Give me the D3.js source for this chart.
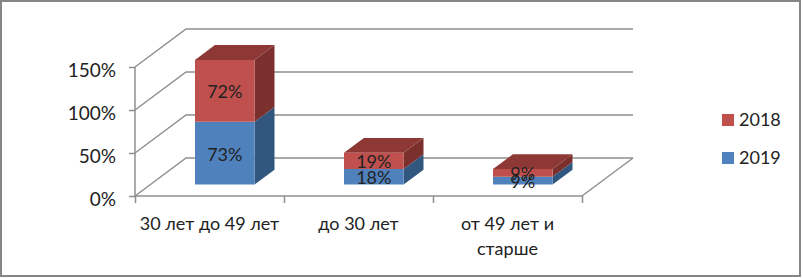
<!DOCTYPE html>
<html>
<head>
<meta charset="utf-8">
<style>
  html, body { margin: 0; padding: 0; background: #fff; }
  svg { display: block; }
  text { font-family: Lato, sans-serif; fill: #222; }
</style>
</head>
<body>
<div class="canvas"></div>
<script src="https://cdn.jsdelivr.net/npm/d3@7"></script>
<script>
const categories = ['30 лет до 49 лет', 'до 30 лет', 'от 49 лет и старше'];
const seriesNames = ['2019', '2018'];
const values2019 = [73, 18, 9];
const values2018 = [72, 19, 9];
const yTicks = [0, 50, 100, 150];

const dims = { width: 803, height: 278 };
const plot = { left: 135, right: 582, top: 67, bottom: 196 };
const depth = { x: 51, y: -38, barFrom: 0.3, barTo: 0.69 }; // fake 3d offset of the back wall
const fontSize = 18;

const colors = {
    '2019': { front: '#4f81bd', side: '#31577f', top: '#3d6596' },
    '2018': { front: '#c0504d', side: '#7b302e', top: '#8e3836' }
};
const lineColor = '#8f8f8f';

const svg = d3.select('.canvas')
    .append('svg')
    .attr('width', dims.width)
    .attr('height', dims.height);

// outer frame
svg.append('rect')
    .attr('x', 1).attr('y', 1)
    .attr('width', 799).attr('height', 275)
    .attr('fill', '#fff')
    .attr('stroke', '#868686')
    .attr('stroke-width', 2);

const x = d3.scaleBand()
    .domain(categories)
    .range([plot.left, plot.right])
    .paddingInner(0.6)
    .paddingOuter(0.3);

const y = d3.scaleLinear()
    .domain([0, 150])
    .range([plot.bottom, plot.top]);

// project a point on to the page, z = 0 is the front of the floor, z = 1 the back wall
const pt = (px, py, z) => [px + depth.x * z, py + depth.y * z];
const line = d3.line();

// walls and gridlines
const grid = svg.append('g')
    .attr('fill', 'none')
    .attr('stroke', lineColor)
    .attr('stroke-width', 1.5);

grid.selectAll('path.gridline')
    .data(yTicks)
    .join('path')
    .attr('class', 'gridline')
    .attr('d', d => line([pt(plot.left, y(d), 0), pt(plot.left, y(d), 1), pt(plot.right, y(d), 1)]));

// floor edge on the right
grid.append('path')
    .attr('d', line([pt(plot.right, y(0), 0), pt(plot.right, y(0), 1)]));

// axes
const axisY = svg.append('g')
    .attr('transform', `translate(${plot.left}, 0)`)
    .call(d3.axisLeft(y).tickValues(yTicks).tickSize(6).tickPadding(13).tickFormat(d => d + '%'));

const tickEdges = d3.range(categories.length + 1).map(i => plot.left + x.step() * i);

const axisX = svg.append('g')
    .attr('transform', `translate(0, ${plot.bottom})`)
    .call(d3.axisBottom(d3.scaleLinear().domain([plot.left, plot.right]).range([plot.left, plot.right]))
        .tickValues(tickEdges).tickSize(7).tickFormat(''));

[axisY, axisX].forEach(a => {
    a.selectAll('path, line').attr('stroke', lineColor).attr('stroke-width', 1.5);
    a.selectAll('.domain').attr('d', a === axisY
        ? `M0,${plot.top}V${plot.bottom}`
        : `M${plot.left},0H${plot.right}`);
});
// tick labels sit a little under their ticks in the picture
axisY.selectAll('text')
    .attr('font-size', 19)
    .attr('y', 3)
    .style('font-family', 'Lato, sans-serif')
    .attr('fill', '#222');

// category labels, wrapped by hand as in the picture
const catLines = { 'от 49 лет и старше': ['от 49 лет и', 'старше'] };
const catLabels = svg.append('g').attr('text-anchor', 'middle').attr('font-size', fontSize);
categories.forEach(c => {
    const t = catLabels.append('text')
        .attr('x', x(c) + x.bandwidth() / 2 )
        .attr('y', 230);
    (catLines[c] || [c]).forEach((s, i) => {
        t.append('tspan')
            .attr('x', x(c) + x.bandwidth() / 2)
            .attr('dy', i ? 25 : 0)
            .text(s);
    });
});

// stacked boxes
const rows = categories.map((c, i) => ({ cat: c, '2019': values2019[i], '2018': values2018[i] }));
const stacked = d3.stack().keys(seriesNames)(rows);

const bars = svg.append('g');

stacked.forEach(layer => {
    const col = colors[layer.key];
    const g = bars.append('g');

    const x0 = d => x(d.data.cat);
    const x1 = d => x(d.data.cat) + x.bandwidth();
    const yLow = d => y(d[0]);
    const yHigh = d => y(d[1]);

    // side
    g.selectAll('path.side').data(layer).join('path')
        .attr('class', 'side')
        .attr('fill', col.side)
        .attr('d', d => line([
            pt(x1(d), yLow(d), depth.barFrom), pt(x1(d), yLow(d), depth.barTo),
            pt(x1(d), yHigh(d), depth.barTo), pt(x1(d), yHigh(d), depth.barFrom)
        ]) + 'Z');

    // top, only seen on the upper series
    if (layer.key === '2018') {
        g.selectAll('path.top').data(layer).join('path')
            .attr('class', 'top')
            .attr('fill', col.top)
            .attr('d', d => line([
                pt(x0(d), yHigh(d), depth.barFrom), pt(x0(d), yHigh(d), depth.barTo),
                pt(x1(d), yHigh(d), depth.barTo), pt(x1(d), yHigh(d), depth.barFrom)
            ]) + 'Z');
    }

    // front
    g.selectAll('path.front').data(layer).join('path')
        .attr('class', 'front')
        .attr('fill', col.front)
        .attr('d', d => line([
            pt(x0(d), yLow(d), depth.barFrom), pt(x1(d), yLow(d), depth.barFrom),
            pt(x1(d), yHigh(d), depth.barFrom), pt(x0(d), yHigh(d), depth.barFrom)
        ]) + 'Z');
});

// data labels go on top of everything
const labels = svg.append('g').attr('text-anchor', 'middle').attr('font-size', fontSize);
stacked.forEach(layer => {
    labels.selectAll(null).data(layer).join('text')
        .attr('x', d => pt(x(d.data.cat) + x.bandwidth() / 2, 0, depth.barFrom)[0])
        .attr('y', d => pt(0, (y(d[0]) + y(d[1])) / 2, depth.barFrom)[1] + 1)
        .attr('dy', '0.35em')
        .attr('fill', '#1a1a1a')
        .text(d => (d[1] - d[0]) + '%');
});

// legend
const legend = svg.append('g').attr('transform', 'translate(722, 0)');
const legendY = d3.scalePoint().domain(['2018', '2019']).range([120, 158]);
legend.selectAll('rect').data(legendY.domain()).join('rect')
    .attr('x', 0)
    .attr('y', d => legendY(d) - 6)
    .attr('width', 12).attr('height', 12)
    .attr('fill', d => colors[d].front);
legend.selectAll('text').data(legendY.domain()).join('text')
    .attr('x', 17)
    .attr('y', d => legendY(d))
    .attr('dy', '0.35em')
    .attr('font-size', fontSize)
    .text(d => d);
</script>
</body>
</html>
